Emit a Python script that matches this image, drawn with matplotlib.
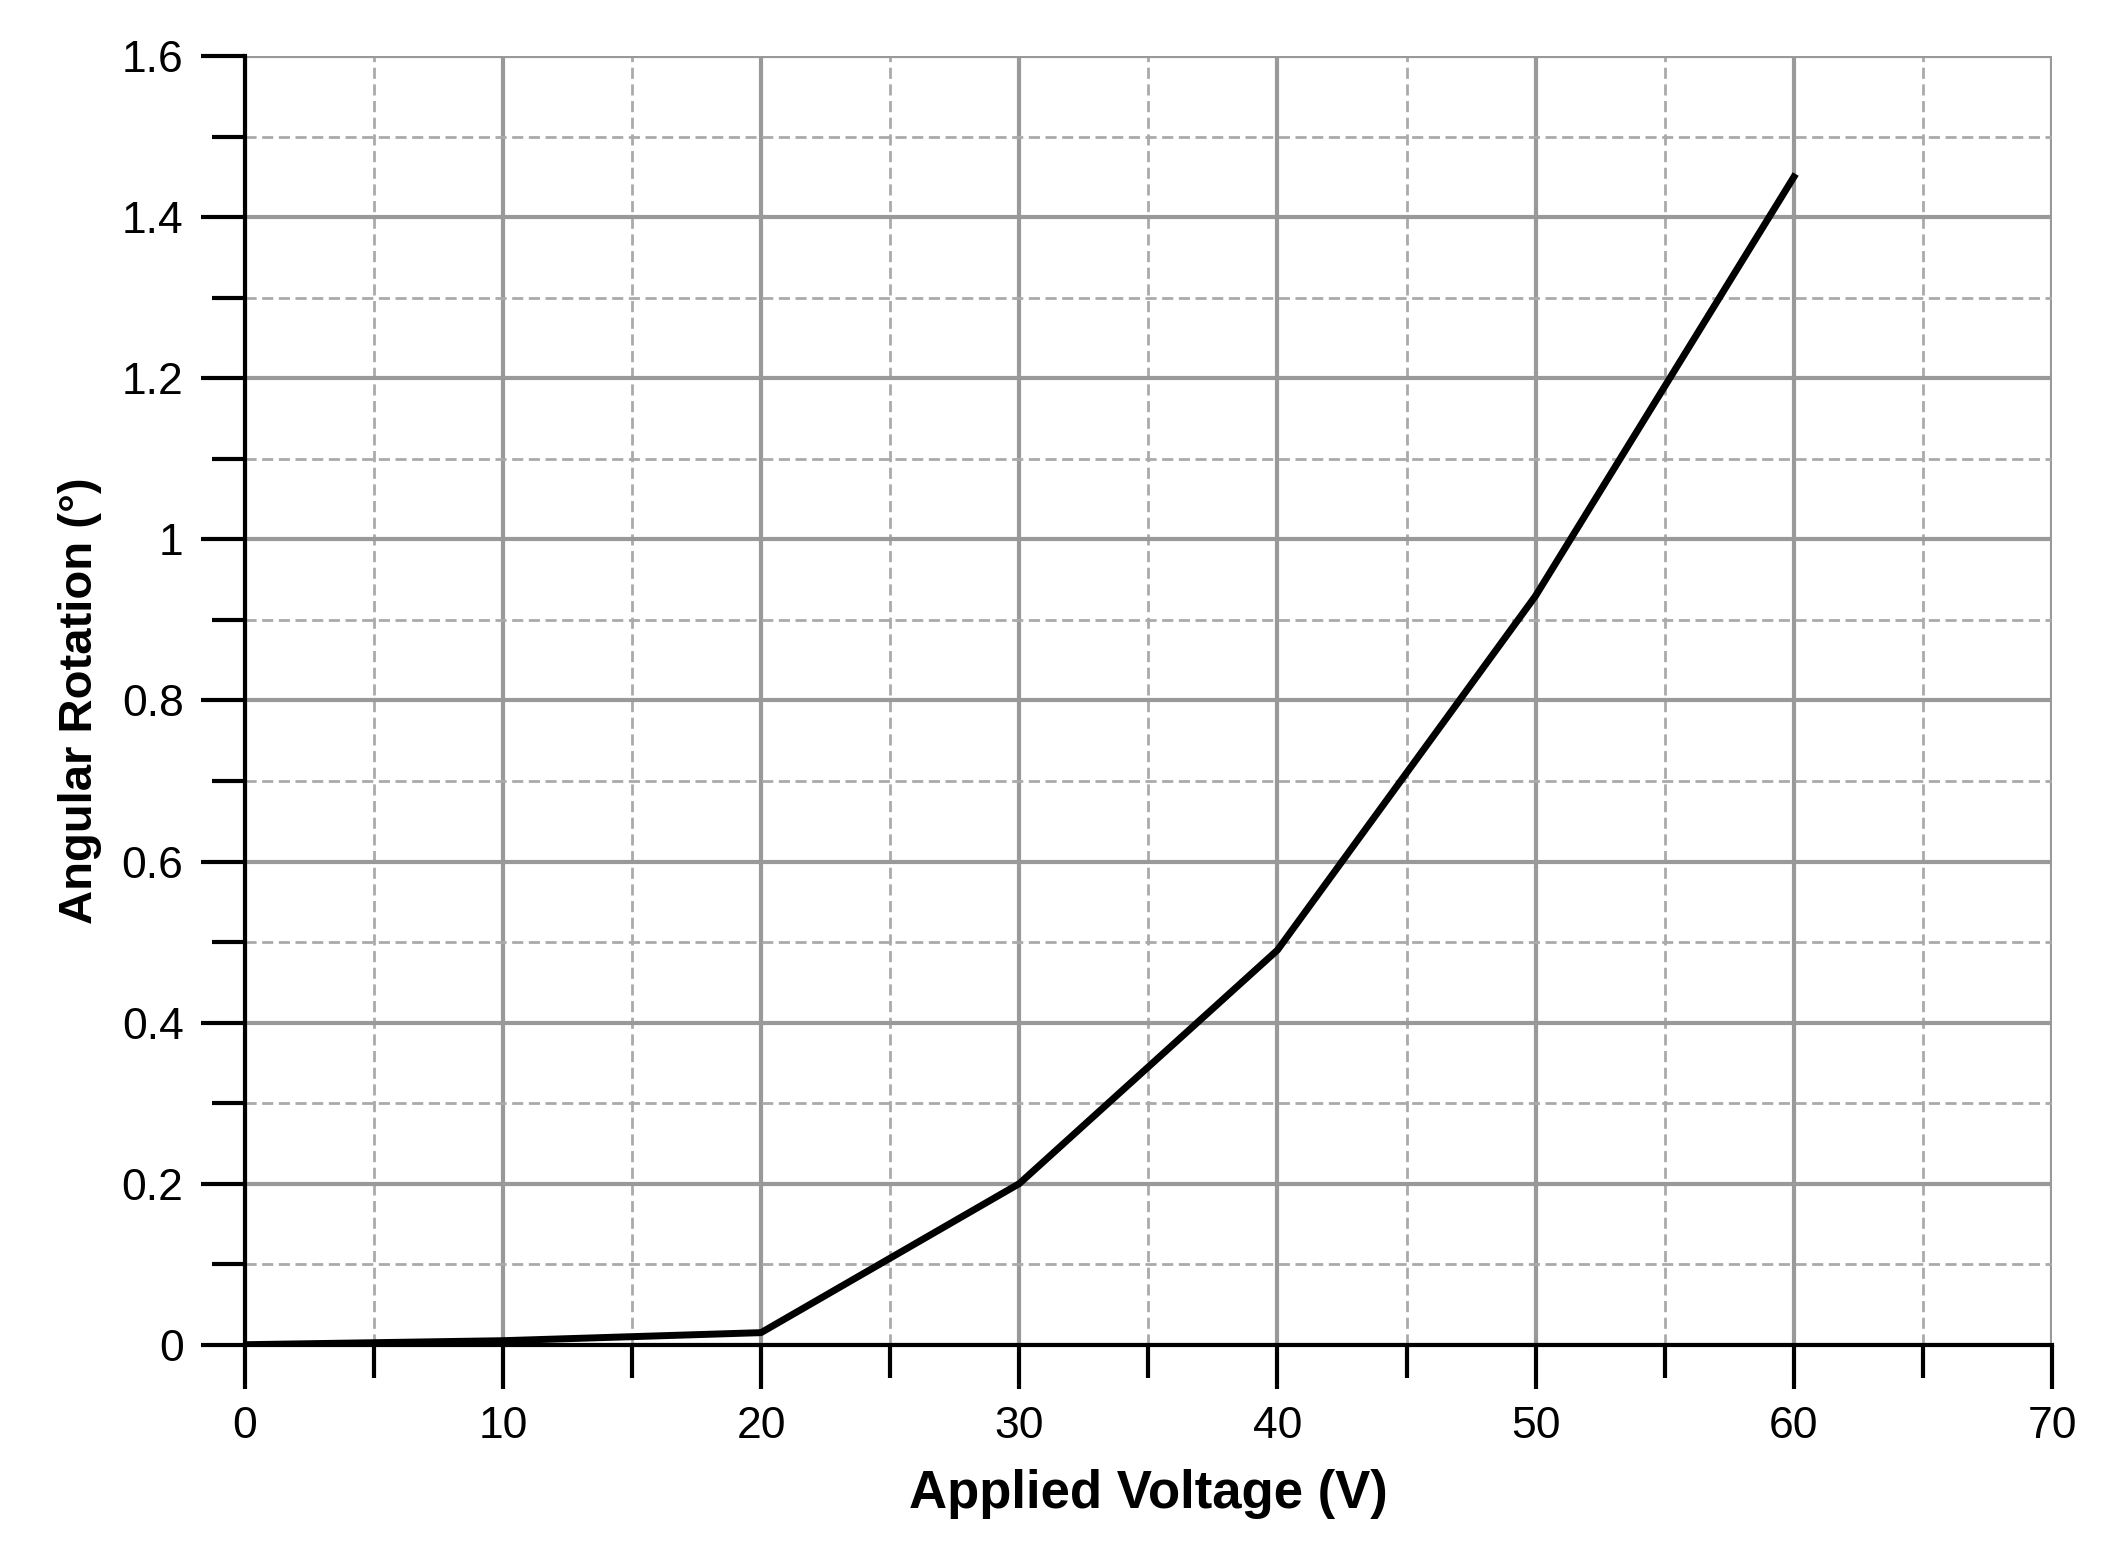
import matplotlib
matplotlib.use("Agg")
import matplotlib.pyplot as plt
from matplotlib.ticker import MultipleLocator

voltage = [0, 10, 20, 30, 40, 50, 60]
rotation = [0.0, 0.005, 0.015, 0.2, 0.49, 0.93, 1.45]

plt.rcParams['font.family'] = ['Liberation Sans', 'DejaVu Sans']
fig = plt.figure(figsize=(21.09, 15.6), dpi=100)
ax = fig.add_axes([0.116, 0.138, 0.857, 0.826])
ax.plot(voltage, rotation, color='black', lw=5, zorder=3)
ax.set_xlim(0, 70)
ax.set_ylim(0, 1.6)
ax.xaxis.set_major_locator(MultipleLocator(10))
ax.xaxis.set_minor_locator(MultipleLocator(5))
ax.yaxis.set_minor_locator(MultipleLocator(0.1))
ax.set_yticks([0, 0.2, 0.4, 0.6, 0.8, 1.0, 1.2, 1.4, 1.6])
ax.set_yticklabels(['0', '0.2', '0.4', '0.6', '0.8', '1', '1.2', '1.4', '1.6'])
ax.grid(which='major', color='#999999', lw=3, ls='-')
ax.grid(which='minor', color='#aaaaaa', lw=2, ls=(0, (4, 2)))
for s in ['top', 'right']:
    ax.spines[s].set_visible(False)
for s in ['left', 'bottom']:
    ax.spines[s].set_linewidth(3)
ax.tick_params(which='major', length=32, width=3, labelsize=32, pad=12)
ax.tick_params(which='minor', length=24, width=3)
ax.set_xlabel('Applied Voltage (V)', fontsize=38, fontweight='bold', labelpad=16)
ax.set_ylabel('Angular Rotation (°)', fontsize=34, fontweight='bold', labelpad=14)
fig.savefig('out.png', dpi=100)
